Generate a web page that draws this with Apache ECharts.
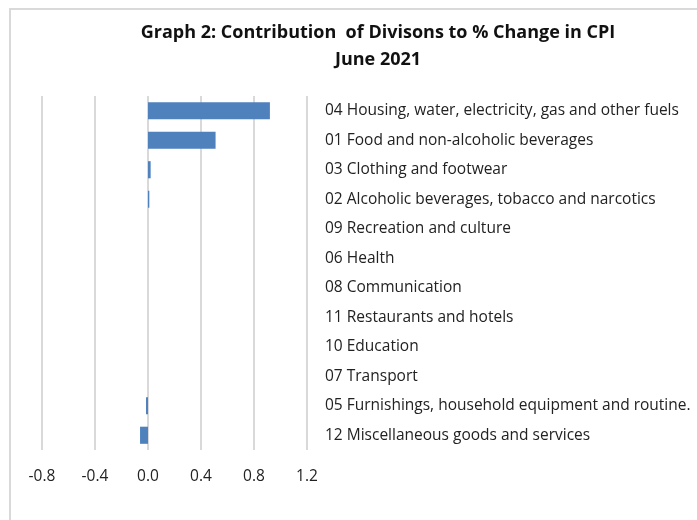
<!DOCTYPE html>
<html>
<head>
<meta charset="utf-8">
<script src="https://cdn.jsdelivr.net/npm/echarts@6/dist/echarts.min.js"></script>
<style>
  html, body { margin: 0; padding: 0; background: #fff; }
  #chart { width: 697px; height: 520px; }
</style>
</head>
<body>
<div id="chart"></div>
<script>
// divisions, top to bottom as shown
const divisions = [
  '04 Housing, water, electricity, gas and other fuels',
  '01 Food and non-alcoholic beverages',
  '03 Clothing and footwear',
  '02 Alcoholic beverages, tobacco and narcotics',
  '09 Recreation and culture',
  '06 Health',
  '08 Communication',
  '11 Restaurants and hotels',
  '10 Education',
  '07 Transport',
  '05 Furnishings, household equipment and routine.',
  '12 Miscellaneous goods and services'
];
const contribution = [0.92, 0.51, 0.02, 0.01, 0, 0, 0, 0, 0, 0, -0.015, -0.06];
const titleLines = ['Graph 2: Contribution  of Divisons to % Change in CPI', 'June 2021'];

const chart = echarts.init(document.getElementById('chart'));
chart.setOption({
  animation: false,
  title: {
    text: titleLines.join('\n'),
    left: 373, top: 14, textAlign: 'center',
    textStyle: { fontFamily: 'Open Sans', fontSize: 18, fontWeight: 'bold', color: '#111', lineHeight: 27 }
  },
  graphic: [{
    type: 'rect', shape: { x: 10, y: 9, width: 700, height: 520 },
    style: { fill: 'none', stroke: '#d9d9d9', lineWidth: 2 }, silent: true
  }],
  grid: { left: 42, right: 390, top: 96, bottom: 70, outerBoundsMode: 'none', containLabel: false },
  xAxis: {
    type: 'value', min: -0.8, max: 1.2, interval: 0.4,
    axisLine: { show: false }, axisTick: { show: false },
    splitLine: { lineStyle: { color: '#d9d9d9', width: 2 } },
    axisLabel: {
      margin: 19, color: '#222', fontSize: 15.5, fontFamily: 'Open Sans',
      formatter: v => v.toFixed(1)
    }
  },
  yAxis: {
    type: 'category', data: divisions, inverse: true, position: 'right',
    axisLine: { show: false }, axisTick: { show: false },
    axisLabel: { margin: 18, color: '#222', fontSize: 15.5, fontFamily: 'Open Sans', align: 'left' }
  },
  series: [{
    type: 'bar', data: contribution, barCategoryGap: '42%',
    itemStyle: { color: '#4f81bd' }
  }]
});
</script>
</body>
</html>
